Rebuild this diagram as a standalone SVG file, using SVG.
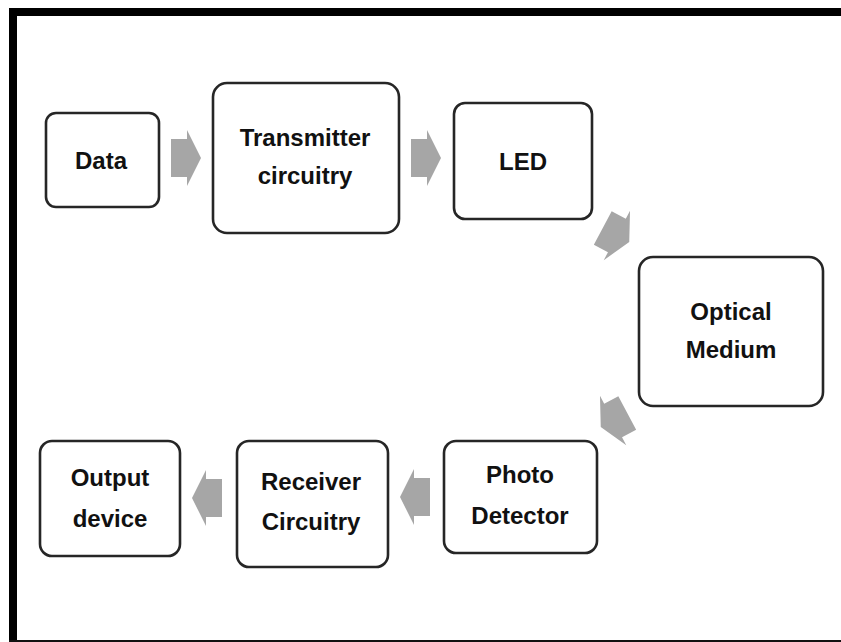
<svg xmlns="http://www.w3.org/2000/svg" width="841" height="642" viewBox="0 0 841 642">
<style>
.box{fill:#fff;stroke:#262626;stroke-width:2.6}
.lbl{font-family:"Liberation Sans",Arial,sans-serif;font-weight:bold;font-size:24px;fill:#111;text-anchor:middle}
.arr{fill:#a6a6a6}
</style>
<defs>
<path id="ra" d="M-15,-19 H1 V-28 L15,0 L1,28 V19 H-15 Z"/>
</defs>
<rect x="0" y="0" width="841" height="642" fill="#fff"/>
<g id="frame">
<rect x="9" y="8" width="832" height="8" fill="#000"/>
<rect x="9" y="8" width="8" height="634" fill="#000"/>
<rect x="9" y="640" width="832" height="2" fill="#111"/>
</g>
<g id="connectors">
<use href="#ra" class="arr" transform="translate(186,158)"/>
<use href="#ra" class="arr" transform="translate(426,158)"/>
<use href="#ra" class="arr" transform="translate(616,235) rotate(28)"/>
<use href="#ra" class="arr" transform="translate(614,420) rotate(152)"/>
<use href="#ra" class="arr" transform="translate(415,497) rotate(180)"/>
<use href="#ra" class="arr" transform="translate(207,498) rotate(180)"/>
</g>
<g id="data">
<rect class="box" x="46" y="113" width="113" height="94" rx="10"/>
<text class="lbl" x="101" y="169">Data</text>
</g>
<g id="transmitter">
<rect class="box" x="213" y="83" width="186" height="150" rx="14"/>
<text class="lbl" x="305" y="146">Transmitter</text>
<text class="lbl" x="305" y="184">circuitry</text>
</g>
<g id="led">
<rect class="box" x="454" y="103" width="138" height="116" rx="11"/>
<text class="lbl" x="523" y="170">LED</text>
</g>
<g id="optical">
<rect class="box" x="639" y="257" width="184" height="149" rx="14"/>
<text class="lbl" x="731" y="320">Optical</text>
<text class="lbl" x="731" y="358">Medium</text>
</g>
<g id="photo">
<rect class="box" x="444" y="441" width="153" height="112" rx="12"/>
<text class="lbl" x="520" y="483">Photo</text>
<text class="lbl" x="520" y="524">Detector</text>
</g>
<g id="receiver">
<rect class="box" x="237" y="441" width="151" height="126" rx="12"/>
<text class="lbl" x="311" y="490">Receiver</text>
<text class="lbl" x="311" y="530">Circuitry</text>
</g>
<g id="output">
<rect class="box" x="40" y="441" width="140" height="115" rx="12"/>
<text class="lbl" x="110" y="486">Output</text>
<text class="lbl" x="110" y="527">device</text>
</g>
</svg>
